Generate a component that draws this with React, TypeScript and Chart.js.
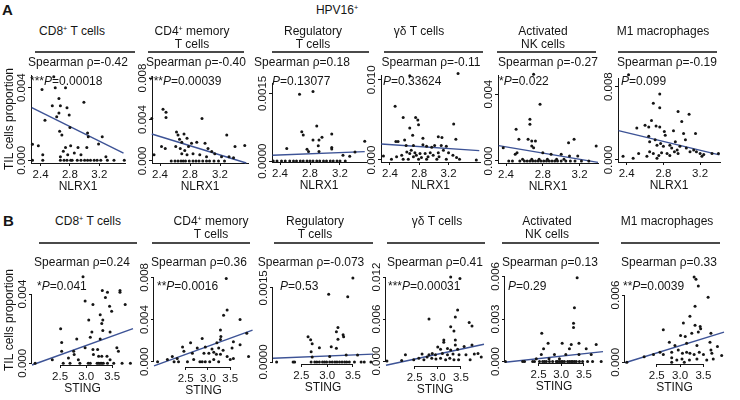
import React, { useEffect, useRef, Fragment } from 'react';
import { Chart, registerables } from 'chart.js';
Chart.register(...registerables);

const FONT = "'Liberation Sans', Arial, Helvetica, sans-serif";
const INK = '#151515';
const FIT = '#3d5396';

// ---------- tick labels ----------
const xTicksA = [2.4, 2.8, 3.2];
const xTicksB = [2.5, 3.0, 3.5];
const yTicksA1 = [0, 0.004];
const yTicksA2 = [0, 0.004, 0.008];
const yTicksA3 = [0, 0.0015];
const yTicksA4 = [0, 0.01];
const yTicksA5 = [0, 0.004];
const yTicksA6 = [0, 0.008];
const yTicksB1 = [0, 0.004];
const yTicksB2 = [0, 0.004, 0.008];
const yTicksB3 = [0, 0.0015];
const yTicksB4 = [0, 0.006, 0.012];
const yTicksB5 = [0, 0.003, 0.006];
const yTicksB6 = [0, 0.006];

// ---------- categories / labels ----------
const cellTypes = [['CD8+ T cells'], ['CD4+ memory', 'T cells'], ['Regulatory', 'T cells'], ['γδ T cells'], ['Activated', 'NK cells'], ['M1 macrophages']];
const rhoA = ['-0.42', '-0.40', '0.18', '-0.11', '-0.27', '-0.19'];
const pA = ['0.00018', '0.00039', '0.13077', '0.33624', '0.022', '0.099'];
const starsA = ['***', '***', '', '', '*', ''];
const rhoB = ['0.24', '0.36', '-0.073', '0.41', '0.13', '0.33'];
const pB = ['0.041', '0.0016', '0.53', '0.00031', '0.29', '0.0039'];
const starsB = ['*', '**', '', '***', '', '**'];

// ---------- series values: [gene expression, TIL proportion] ----------
const a1Pts = [[2.29,0.00089],[2.37,0.0008],[2.43,0.0003],[2.42,0.0039],[2.46,0.0022],[2.58,0.0046],[2.60,0.0040],[2.74,0.0040],[2.65,0.0034],[2.56,0.0030],[2.67,0.0030],[2.76,0.0029],[2.65,0.0026],[2.62,0.0024],[2.79,0.0025],[2.99,0.0032],[2.66,0.0016],[2.69,0.0014],[2.80,0.0018],[3.04,0.0015],[3.05,0.0013],[3.24,0.0013],[2.81,0.0008],[2.91,0.0007],[3.03,0.0007],[2.74,0.0007],[2.71,0.0005],[2.77,0.0003],[2.86,0.0004],[2.95,0.0003],[3.19,0.0009],[3.29,0.0002],[2.67,0.0002],[2.29,0],[2.43,0],[2.67,0],[2.72,0],[2.76,0],[2.81,0],[2.83,0],[2.90,0],[2.95,0],[3.00,0],[3.04,0],[3.08,0],[3.13,0],[3.17,0],[3.22,0],[3.31,0],[3.40,0],[3.54,0]];
const a2Pts = [[2.29,0.0041],[2.32,0.0006],[2.44,0.0050],[2.48,0.0047],[2.48,0.0042],[2.42,0.0014],[2.47,0.0012],[2.62,0.0028],[2.64,0.0025],[2.66,0.0021],[2.69,0.0018],[2.72,0.0026],[2.76,0.0022],[2.61,0.0014],[2.67,0.0012],[2.73,0.0010],[2.78,0.0014],[2.82,0.0017],[2.89,0.0018],[2.96,0.0041],[3.00,0.0017],[3.04,0.0012],[3.09,0.0009],[2.69,0.0007],[2.76,0.0006],[2.84,0.0007],[2.93,0.0006],[3.02,0.0004],[3.13,0.0007],[3.22,0.0004],[3.29,0.0025],[3.40,0.0014],[3.53,0.0015],[3.32,0.0004],[3.38,0.0003],[2.55,0],[2.60,0],[2.64,0],[2.68,0],[2.71,0],[2.74,0],[2.79,0],[2.84,0],[2.88,0],[2.92,0],[2.97,0],[3.02,0],[3.06,0],[3.12,0],[3.18,0],[3.26,0]];
const a3Pts = [[2.78,0.00186],[2.66,0.00148],[2.84,0.00154],[2.89,0.00078],[2.69,0.00065],[2.71,0.00058],[2.84,0.00047],[2.92,0.00047],[2.96,0.00053],[3.09,0.0006],[2.91,0.00034],[3.09,0.0003],[3.09,0.00027],[2.49,0.00028],[2.76,0.00026],[2.78,0.00021],[2.92,0.00021],[3.53,0.00044],[3.24,0.00013],[3.33,0.00011],[3.40,0.0002],[2.31,0],[2.36,0],[2.42,0],[2.47,0],[2.53,0],[2.58,0],[2.62,0],[2.67,0],[2.71,0],[2.76,0],[2.80,0],[2.84,0],[2.89,0],[2.93,0],[2.98,0],[3.02,0],[3.07,0],[3.11,0],[3.16,0],[3.20,0],[3.27,0]];
const a4Pts = [[2.67,0.0105],[3.33,0.0108],[2.47,0.0067],[2.58,0.0053],[2.75,0.0053],[2.78,0.0050],[2.79,0.0044],[2.67,0.0040],[2.71,0.0031],[2.85,0.0027],[3.06,0.0029],[3.11,0.0028],[3.27,0.0045],[3.30,0.0026],[2.48,0.0023],[2.51,0.0023],[2.60,0.0025],[2.62,0.0018],[2.72,0.0018],[2.85,0.0019],[2.90,0.0017],[2.97,0.0016],[3.01,0.0018],[3.10,0.0018],[3.17,0.0017],[2.63,0.0010],[2.67,0.0008],[2.69,0.0012],[2.74,0.0009],[2.76,0.0006],[2.81,0.0008],[2.88,0.0008],[2.95,0.0009],[2.99,0.0006],[3.06,0.0009],[3.13,0.0012],[3.20,0.0009],[2.31,0.0005],[2.49,0.0004],[2.56,0.0006],[2.72,0.0004],[2.83,0.0003],[2.92,0.0004],[3.07,0.0004],[3.26,0.0006],[3.31,0.0003],[3.58,0],[2.42,0.0001],[2.58,0.0001],[2.65,0.0001],[2.79,0.0001],[2.90,0.0001],[3.04,0.0001],[3.17,0.0001],[3.35,0.0001]];
const a5Pts = [[2.70,0.0052],[2.77,0.0034],[2.66,0.0025],[2.66,0.0022],[2.51,0.0019],[2.54,0.0013],[2.64,0.0013],[2.68,0.0012],[2.72,0.0012],[2.68,0.0009],[2.70,0.0008],[3.08,0.0011],[3.14,0.0013],[3.38,0.0009],[2.37,0.0008],[2.50,0.0004],[2.52,0.0005],[2.80,0.0005],[2.89,0.0004],[3.00,0.0004],[3.09,0.0003],[3.18,0.0003],[2.43,0],[2.47,0],[2.55,0],[2.60,0],[2.63,0],[2.66,0],[2.69,0],[2.72,0],[2.75,0],[2.78,0],[2.81,0],[2.84,0],[2.87,0],[2.90,0],[2.93,0],[2.96,0],[3.00,0],[3.05,0],[3.10,0],[3.15,0],[3.22,0],[3.30,0],[2.58,0.0001],[2.68,0.0001],[2.76,0.0001],[2.85,0.0001],[2.95,0.0001],[3.03,0.0001]];
const a6Pts = [[2.42,0.0093],[2.76,0.0072],[2.69,0.0062],[2.76,0.0057],[2.96,0.0053],[3.08,0.0050],[2.51,0.0035],[2.60,0.0038],[2.64,0.0036],[2.67,0.0043],[2.72,0.0037],[2.76,0.0036],[2.81,0.0031],[2.82,0.0027],[2.91,0.0032],[3.00,0.0042],[3.02,0.0029],[3.04,0.0022],[3.15,0.0029],[2.64,0.0026],[2.65,0.0020],[2.71,0.0022],[2.73,0.0016],[2.77,0.0018],[2.80,0.0015],[2.87,0.0016],[2.89,0.0013],[2.93,0.0020],[2.95,0.0011],[2.98,0.0015],[2.65,0.0009],[2.69,0.0007],[2.75,0.0005],[2.78,0.0008],[2.84,0.0007],[2.87,0.0005],[2.92,0.0009],[2.96,0.0007],[3.05,0.0013],[3.09,0.0009],[3.13,0.0011],[3.16,0.0009],[3.20,0.0007],[3.24,0.0006],[3.33,0.0007],[2.36,0.0004],[2.47,0.0002],[2.53,0.0007],[2.62,0.0004],[2.73,0.0002],[3.22,0.0004],[3.40,0.0007]];
const b1Pts = [[2.94,0.0050],[3.31,0.0042],[3.41,0.0041],[3.37,0.0038],[3.65,0.0042],[3.65,0.0041],[2.98,0.0036],[3.13,0.0034],[3.75,0.0034],[3.45,0.0033],[3.49,0.0030],[3.27,0.0028],[3.05,0.0025],[3.32,0.0025],[3.30,0.0023],[2.51,0.0020],[3.32,0.0019],[3.46,0.0018],[3.11,0.0018],[2.82,0.0014],[3.08,0.0015],[3.27,0.0014],[2.53,0.0012],[2.98,0.0009],[3.13,0.0008],[3.22,0.0008],[3.59,0.0009],[3.62,0.0007],[2.53,0.0007],[2.76,0.0007],[2.77,0.0005],[3.14,0.0005],[3.24,0.0004],[3.30,0.0004],[3.40,0.0004],[3.46,0.0002],[2.66,0.0003],[2.85,0.0002],[2.35,0.0002],[2.02,0],[2.56,0],[2.69,0],[2.88,0],[3.04,0],[3.08,0],[3.21,0],[3.24,0],[3.27,0],[3.30,0],[3.33,0],[3.41,0],[3.53,0],[3.69,0],[3.85,0]];
const b2Pts = [[3.41,0.0079],[3.43,0.0049],[3.35,0.0044],[3.72,0.0040],[3.28,0.0030],[3.29,0.0024],[3.87,0.0027],[2.87,0.0022],[2.61,0.0018],[3.20,0.0018],[3.28,0.0021],[3.57,0.0019],[3.72,0.0016],[2.43,0.0014],[2.76,0.0013],[2.94,0.0014],[3.09,0.0012],[3.24,0.0013],[3.34,0.0011],[3.54,0.0013],[2.46,0.0010],[2.65,0.0008],[2.91,0.0008],[3.02,0.0008],[3.13,0.0009],[3.19,0.0007],[3.28,0.0007],[3.43,0.0005],[3.57,0.0003],[3.91,0.0005],[2.20,0.0005],[2.31,0.0003],[2.68,0.0002],[3.13,0.0002],[3.50,0.0002],[2.09,0.0002],[1.87,0],[2.24,0],[2.34,0],[2.54,0],[2.82,0],[2.87,0],[2.94,0],[3.04,0],[3.24,0]];
const b3Pts = [[3.50,0.0017],[3.03,0.00137],[3.40,0.00132],[2.63,0.00051],[2.68,0.00045],[2.71,0.00037],[2.85,0.00029],[3.21,0.0007],[3.18,0.00061],[3.31,0.00055],[3.32,0.00051],[3.21,0.00046],[3.08,0.00031],[3.18,0.00028],[3.05,0.00011],[3.37,0.00014],[2.69,0.00021],[3.59,0.00014],[2.71,0.0001],[2.02,0],[2.34,0],[2.37,0],[2.69,0],[2.76,0],[2.80,0],[2.85,0],[2.91,0],[2.95,0],[2.99,0],[3.05,0],[3.10,0],[3.15,0],[3.19,0],[3.24,0],[3.29,0],[3.34,0],[3.38,0],[3.43,0],[3.53,0],[3.66,0],[3.72,0],[3.85,0]];
const b4Pts = [[3.28,0.0120],[3.48,0.0118],[3.43,0.0073],[2.81,0.0060],[3.38,0.0063],[3.28,0.0049],[3.35,0.0043],[3.68,0.0055],[3.74,0.0050],[3.13,0.0030],[3.13,0.0027],[3.38,0.0030],[3.38,0.0023],[3.57,0.0021],[3.74,0.0023],[3.00,0.0020],[3.06,0.0017],[3.21,0.0018],[3.28,0.0016],[3.43,0.0017],[2.30,0.0009],[2.66,0.0010],[2.81,0.0009],[2.88,0.0011],[2.95,0.0009],[3.10,0.0011],[3.21,0.0009],[3.33,0.0010],[3.46,0.0009],[3.61,0.0009],[3.79,0.0010],[3.87,0.0011],[3.94,0.0006],[2.48,0.0002],[2.59,0.0004],[2.70,0.0002],[2.77,0.0006],[2.87,0.0004],[2.96,0.0003],[3.06,0.0004],[3.17,0.0002],[3.26,0.0004],[3.35,0.0002],[3.45,0.0002],[3.70,0.0002],[1.90,0],[2.22,0.0001]];
const b5Pts = [[3.35,0.0059],[3.29,0.0038],[3.27,0.0027],[3.27,0.0024],[2.57,0.0020],[2.71,0.0013],[2.61,0.0009],[3.02,0.0013],[3.22,0.0012],[3.39,0.0013],[3.18,0.0009],[3.55,0.0009],[3.77,0.0012],[3.66,0.0005],[2.56,0.0005],[2.85,0.0005],[3.10,0.0005],[3.39,0.0005],[2.45,0.0002],[2.73,0.0002],[2.96,0.0002],[1.77,0],[2.15,0],[2.19,0],[2.37,0],[2.41,0],[2.52,0],[2.59,0],[2.63,0],[2.67,0],[2.74,0],[2.81,0],[2.89,0],[2.92,0],[2.96,0],[3.00,0],[3.03,0],[3.07,0],[3.14,0],[3.18,0],[3.22,0],[3.25,0],[3.29,0],[3.33,0],[3.40,0],[3.47,0],[3.58,0],[3.69,0],[3.88,0]];
const b6Pts = [[3.30,0.0076],[3.34,0.0074],[3.39,0.0068],[3.60,0.0058],[3.32,0.0050],[3.21,0.0041],[3.07,0.0035],[3.32,0.0033],[3.43,0.0032],[3.44,0.0030],[2.64,0.0029],[3.01,0.0024],[3.11,0.0023],[3.25,0.0026],[3.39,0.0027],[3.66,0.0026],[3.64,0.0018],[2.77,0.0018],[2.89,0.0015],[3.14,0.0017],[3.36,0.0015],[3.80,0.0014],[2.57,0.0009],[2.64,0.0007],[2.82,0.0009],[2.96,0.0011],[3.05,0.0008],[3.14,0.0009],[3.21,0.0008],[3.30,0.0007],[3.41,0.0009],[3.50,0.0007],[3.66,0.0011],[3.68,0.0008],[3.89,0.0006],[2.23,0.0005],[2.43,0.0007],[2.82,0.0004],[2.93,0.0002],[3.04,0.0003],[3.20,0.0002],[3.36,0.0003],[3.57,0.0002],[3.71,0.0003],[1.86,0],[2.82,0],[3.09,0]];

// ---------- regression lines: [x0, y0, x1, y1] ----------
const a1Fit = [2.28, 0.0029, 3.53, 0.0004];
const a2Fit = [2.29, 0.0026, 3.55, -0.0002];
const a3Fit = [2.30, 0.00013, 3.53, 0.00021];
const a4Fit = [2.28, 0.0020, 3.62, 0.00117];
const a5Fit = [2.32, 0.00092, 3.40, -0.00008];
const a6Fit = [2.31, 0.0032, 3.41, 0.00055];
const b1Fit = [1.96, -0.0001, 3.90, 0.0020];
const b2Fit = [1.79, -0.0004, 4.0, 0.0030];
const b3Fit = [1.95, 0.000075, 3.89, 0.00016];
const b4Fit = [1.88, -0.0006, 4.0, 0.0024];
const b5Fit = [1.76, -0.00005, 3.92, 0.0007];
const b6Fit = [1.82, -0.00004, 3.94, 0.0027];

// ---------- layout (positions / axis ranges) ----------
type Panel = {
  id: string; row: 'A' | 'B'; idx: number; pts: number[][]; fit: number[];
  xr: number[]; yr: number[]; xTicks: number[]; yTicks: number[]; dec: number;
  L: number; R: number; T: number; B: number;
  tx: number; ul: number[]; sx: number; px: number;
};

const panels: Panel[] = [
  { id: 'a1', row: 'A', idx: 0, pts: a1Pts, fit: a1Fit, xr: [2.27, 3.55], yr: [-0.00015, 0.0047], xTicks: xTicksA, yTicks: yTicksA1, dec: 3, L: 31, R: 125, T: 75, B: 163, tx: 72, ul: [35, 135], sx: 78, px: 30 },
  { id: 'a2', row: 'A', idx: 1, pts: a2Pts, fit: a2Fit, xr: [2.293, 3.573], yr: [-0.0002, 0.0082], xTicks: xTicksA, yTicks: yTicksA2, dec: 3, L: 152, R: 248, T: 76, B: 163, tx: 192, ul: [148, 244], sx: 196, px: 149 },
  { id: 'a3', row: 'A', idx: 2, pts: a3Pts, fit: a3Fit, xr: [2.293, 3.547], yr: [-0.00002, 0.00173], xTicks: xTicksA, yTicks: yTicksA3, dec: 4, L: 272, R: 366, T: 83, B: 162, tx: 313, ul: [272, 369], sx: 302, px: 272 },
  { id: 'a4', row: 'A', idx: 3, pts: a4Pts, fit: a4Fit, xr: [2.277, 3.63], yr: [-0.00025, 0.0106], xTicks: xTicksA, yTicks: yTicksA4, dec: 3, L: 381, R: 480, T: 75, B: 162, tx: 419, ul: [384, 483], sx: 431, px: 383 },
  { id: 'a5', row: 'A', idx: 4, pts: a5Pts, fit: a5Fit, xr: [2.313, 3.40], yr: [-0.00012, 0.00515], xTicks: xTicksA, yTicks: yTicksA5, dec: 3, L: 498, R: 598, T: 75, B: 163, tx: 543, ul: [497, 596], sx: 548, px: 499 },
  { id: 'a6', row: 'A', idx: 5, pts: a6Pts, fit: a6Fit, xr: [2.305, 3.417], yr: [-0.00022, 0.00894], xTicks: xTicksA, yTicks: yTicksA6, dec: 3, L: 618, R: 720, T: 78, B: 162, tx: 663, ul: [618, 717], sx: 667, px: 621 },
  { id: 'b1', row: 'B', idx: 0, pts: b1Pts, fit: b1Fit, xr: [1.96, 3.90], yr: [-0.0001, 0.0051], xTicks: xTicksB, yTicks: yTicksB1, dec: 3, L: 32, R: 133, T: 275, B: 365, tx: 88, ul: [39, 137], sx: 82, px: 37 },
  { id: 'b2', row: 'B', idx: 1, pts: b2Pts, fit: b2Fit, xr: [1.79, 4.01], yr: [-0.0005, 0.0087], xTicks: xTicksB, yTicks: yTicksB2, dec: 3, L: 154, R: 253, T: 270, B: 367, tx: 211, ul: [152, 250], sx: 199, px: 157 },
  { id: 'b3', row: 'B', idx: 2, pts: b3Pts, fit: b3Fit, xr: [1.95, 3.89], yr: [-0.00004, 0.00174], xTicks: xTicksB, yTicks: yTicksB3, dec: 4, L: 273, R: 373, T: 276, B: 364, tx: 315, ul: [274, 373], sx: 311, px: 280 },
  { id: 'b4', row: 'B', idx: 3, pts: b4Pts, fit: b4Fit, xr: [1.88, 4.0], yr: [-0.0007, 0.0123], xTicks: xTicksB, yTicks: yTicksB4, dec: 3, L: 386, R: 484, T: 275, B: 366, tx: 437, ul: [387, 485], sx: 435, px: 388 },
  { id: 'b5', row: 'B', idx: 4, pts: b5Pts, fit: b5Fit, xr: [1.76, 3.92], yr: [-0.0001, 0.0061], xTicks: xTicksB, yTicks: yTicksB5, dec: 3, L: 505, R: 603, T: 275, B: 363, tx: 547, ul: [502, 599], sx: 550, px: 508 },
  { id: 'b6', row: 'B', idx: 5, pts: b6Pts, fit: b6Fit, xr: [1.82, 3.94], yr: [-0.00015, 0.0077], xTicks: xTicksB, yTicks: yTicksB6, dec: 3, L: 625, R: 724, T: 276, B: 364, tx: 667, ul: [621, 720], sx: 669, px: 623 },
];

const ROW_Y = {
  A: { t1: 30.5, t2: 43.5, ul: 52, sp: 62, p: 81, xTitle: 'NLRX1' },
  B: { t1: 221, t2: 234, ul: 243, sp: 262, p: 286, xTitle: 'STING' },
};

function rich(s: string) {
  const i = s.indexOf('+');
  if (i < 0) return s;
  return (
    <>
      {s.slice(0, i)}
      <span style={{ fontSize: '0.6em', position: 'relative', top: '-0.55em' }}>+</span>
      {s.slice(i + 1)}
    </>
  );
}

function Txt({ x, y, size = 12, align = 'center', bold = false, children }: any) {
  return (
    <div
      style={{
        position: 'absolute', left: x, top: y,
        transform: align === 'center' ? 'translate(-50%,-50%)' : 'translate(0,-50%)',
        fontSize: size, lineHeight: 1, whiteSpace: 'nowrap', fontWeight: bold ? 700 : 400,
      }}
    >
      {children}
    </div>
  );
}

function ScatterPanel({ p }: { p: Panel }) {
  const ref = useRef<HTMLCanvasElement>(null);
  const first = p.idx === 0;
  const yW = first ? p.L : 20;
  const padT = 20;
  const padR = 8;
  const xH = 31;
  const left = p.L - yW;
  const top = p.T - padT;
  const width = p.R + padR - left;
  const height = p.B + xH - top;

  useEffect(() => {
    const canvas = ref.current!;
    const mctx = canvas.getContext('2d')!;
    const tickSize = 11.5;
    mctx.font = `${tickSize}px ${FONT}`;
    const yLabels = p.yTicks.map((v) => v.toFixed(p.dec));
    const widest = Math.max(...yLabels.map((s) => mctx.measureText(s).width));
    const tl = 3;
    const yPad = 9 - tl - widest / 2;
    const rStyle = p.row === 'B';

    const axisPlugin = {
      id: 'rAxis_' + p.id,
      afterDatasetsDraw(chart: any) {
        if (!rStyle) return;
        const { ctx, chartArea: ca, scales } = chart;
        const xs = scales.x, ys = scales.y;
        ctx.save();
        ctx.strokeStyle = INK;
        ctx.lineWidth = 1;
        ctx.beginPath();
        const yb = Math.round(ca.bottom) + 0.5;
        ctx.moveTo(xs.getPixelForValue(p.xTicks[0]), yb);
        ctx.lineTo(xs.getPixelForValue(p.xTicks[p.xTicks.length - 1]), yb);
        const xl = Math.round(ca.left) - 0.5;
        ctx.moveTo(xl, ys.getPixelForValue(p.yTicks[0]));
        ctx.lineTo(xl, ys.getPixelForValue(p.yTicks[p.yTicks.length - 1]));
        ctx.stroke();
        ctx.restore();
      },
    };

    const tickFont = { family: FONT, size: tickSize };
    const grid = { display: true, drawOnChartArea: false, drawTicks: true, tickLength: tl, color: INK, lineWidth: 1 };
    const border = { display: !rStyle, color: INK, width: 1 };

    const chart = new Chart(canvas, {
      type: 'scatter',
      data: {
        datasets: [
          {
            data: p.pts.map(([x, y]) => ({ x, y })),
            pointRadius: 1.5,
            pointBackgroundColor: INK,
            pointBorderWidth: 0,
            clip: false,
          } as any,
          {
            data: [{ x: p.fit[0], y: p.fit[1] }, { x: p.fit[2], y: p.fit[3] }],
            showLine: true,
            borderColor: FIT,
            borderWidth: 1.4,
            pointRadius: 0,
            clip: false,
          } as any,
        ],
      },
      options: {
        animation: false,
        responsive: false,
        devicePixelRatio: 1,
        events: [],
        layout: { padding: { top: padT, right: padR, left: 0, bottom: 0 } },
        plugins: { legend: { display: false }, tooltip: { enabled: false } },
        scales: {
          x: {
            type: 'linear', min: p.xr[0], max: p.xr[1],
            afterBuildTicks: (s: any) => { s.ticks = p.xTicks.map((v) => ({ value: v })); },
            afterFit: (s: any) => { s.height = xH; },
            ticks: { autoSkip: false, minRotation: 0, maxRotation: 0, padding: 2, color: INK, font: tickFont, callback: (v: any) => Number(v).toFixed(1) },
            grid, border,
            title: { display: true, text: ROW_Y[p.row].xTitle, color: INK, font: { family: FONT, size: 12 }, padding: { top: 0, bottom: 0 } },
          },
          y: {
            type: 'linear', min: p.yr[0], max: p.yr[1],
            afterBuildTicks: (s: any) => { s.ticks = p.yTicks.map((v) => ({ value: v })); },
            afterFit: (s: any) => { s.width = yW; },
            ticks: { autoSkip: false, minRotation: 90, maxRotation: 90, crossAlign: 'center', padding: yPad, color: INK, font: tickFont, callback: (v: any) => Number(v).toFixed(p.dec) },
            grid, border,
            title: { display: first, text: 'TIL cells proportion', color: INK, font: { family: FONT, size: 12 }, padding: { top: 2, bottom: 0 } },
          },
        },
      } as any,
      plugins: [axisPlugin],
    });
    return () => chart.destroy();
  }, []);

  return (
    <canvas
      ref={ref}
      width={width}
      height={height}
      style={{ position: 'absolute', left, top, width, height }}
    />
  );
}

export default function App() {
  return (
    <div
      style={{
        position: 'fixed', left: 0, top: 0, width: 740, height: 400, background: '#fff',
        overflow: 'hidden', fontFamily: FONT, color: INK,
      }}
    >
      <Txt x={7.5} y={8.5} size={15} bold>A</Txt>
      <Txt x={8.5} y={220} size={15} bold>B</Txt>
      <Txt x={337} y={10} size={12}>{rich('HPV16+')}</Txt>
      {panels.map((p) => {
        const ry = ROW_Y[p.row];
        const lines = cellTypes[p.idx];
        const rho = p.row === 'A' ? rhoA[p.idx] : rhoB[p.idx];
        const pv = p.row === 'A' ? pA[p.idx] : pB[p.idx];
        const st = p.row === 'A' ? starsA[p.idx] : starsB[p.idx];
        return (
          <Fragment key={p.id}>
            <ScatterPanel p={p} />
            <Txt x={p.tx} y={ry.t1}>{rich(lines[0])}</Txt>
            {lines[1] && <Txt x={p.tx} y={ry.t2}>{rich(lines[1])}</Txt>}
            <div style={{ position: 'absolute', left: p.ul[0], top: ry.ul - 1, width: p.ul[1] - p.ul[0], height: 2, background: '#4a4a4a' }} />
            <Txt x={p.sx} y={ry.sp}>{'Spearman ρ=' + rho}</Txt>
            <Txt x={p.px} y={ry.p} align="left">
              {st}<i>P</i>{'=' + pv}
            </Txt>
          </Fragment>
        );
      })}
    </div>
  );
}
